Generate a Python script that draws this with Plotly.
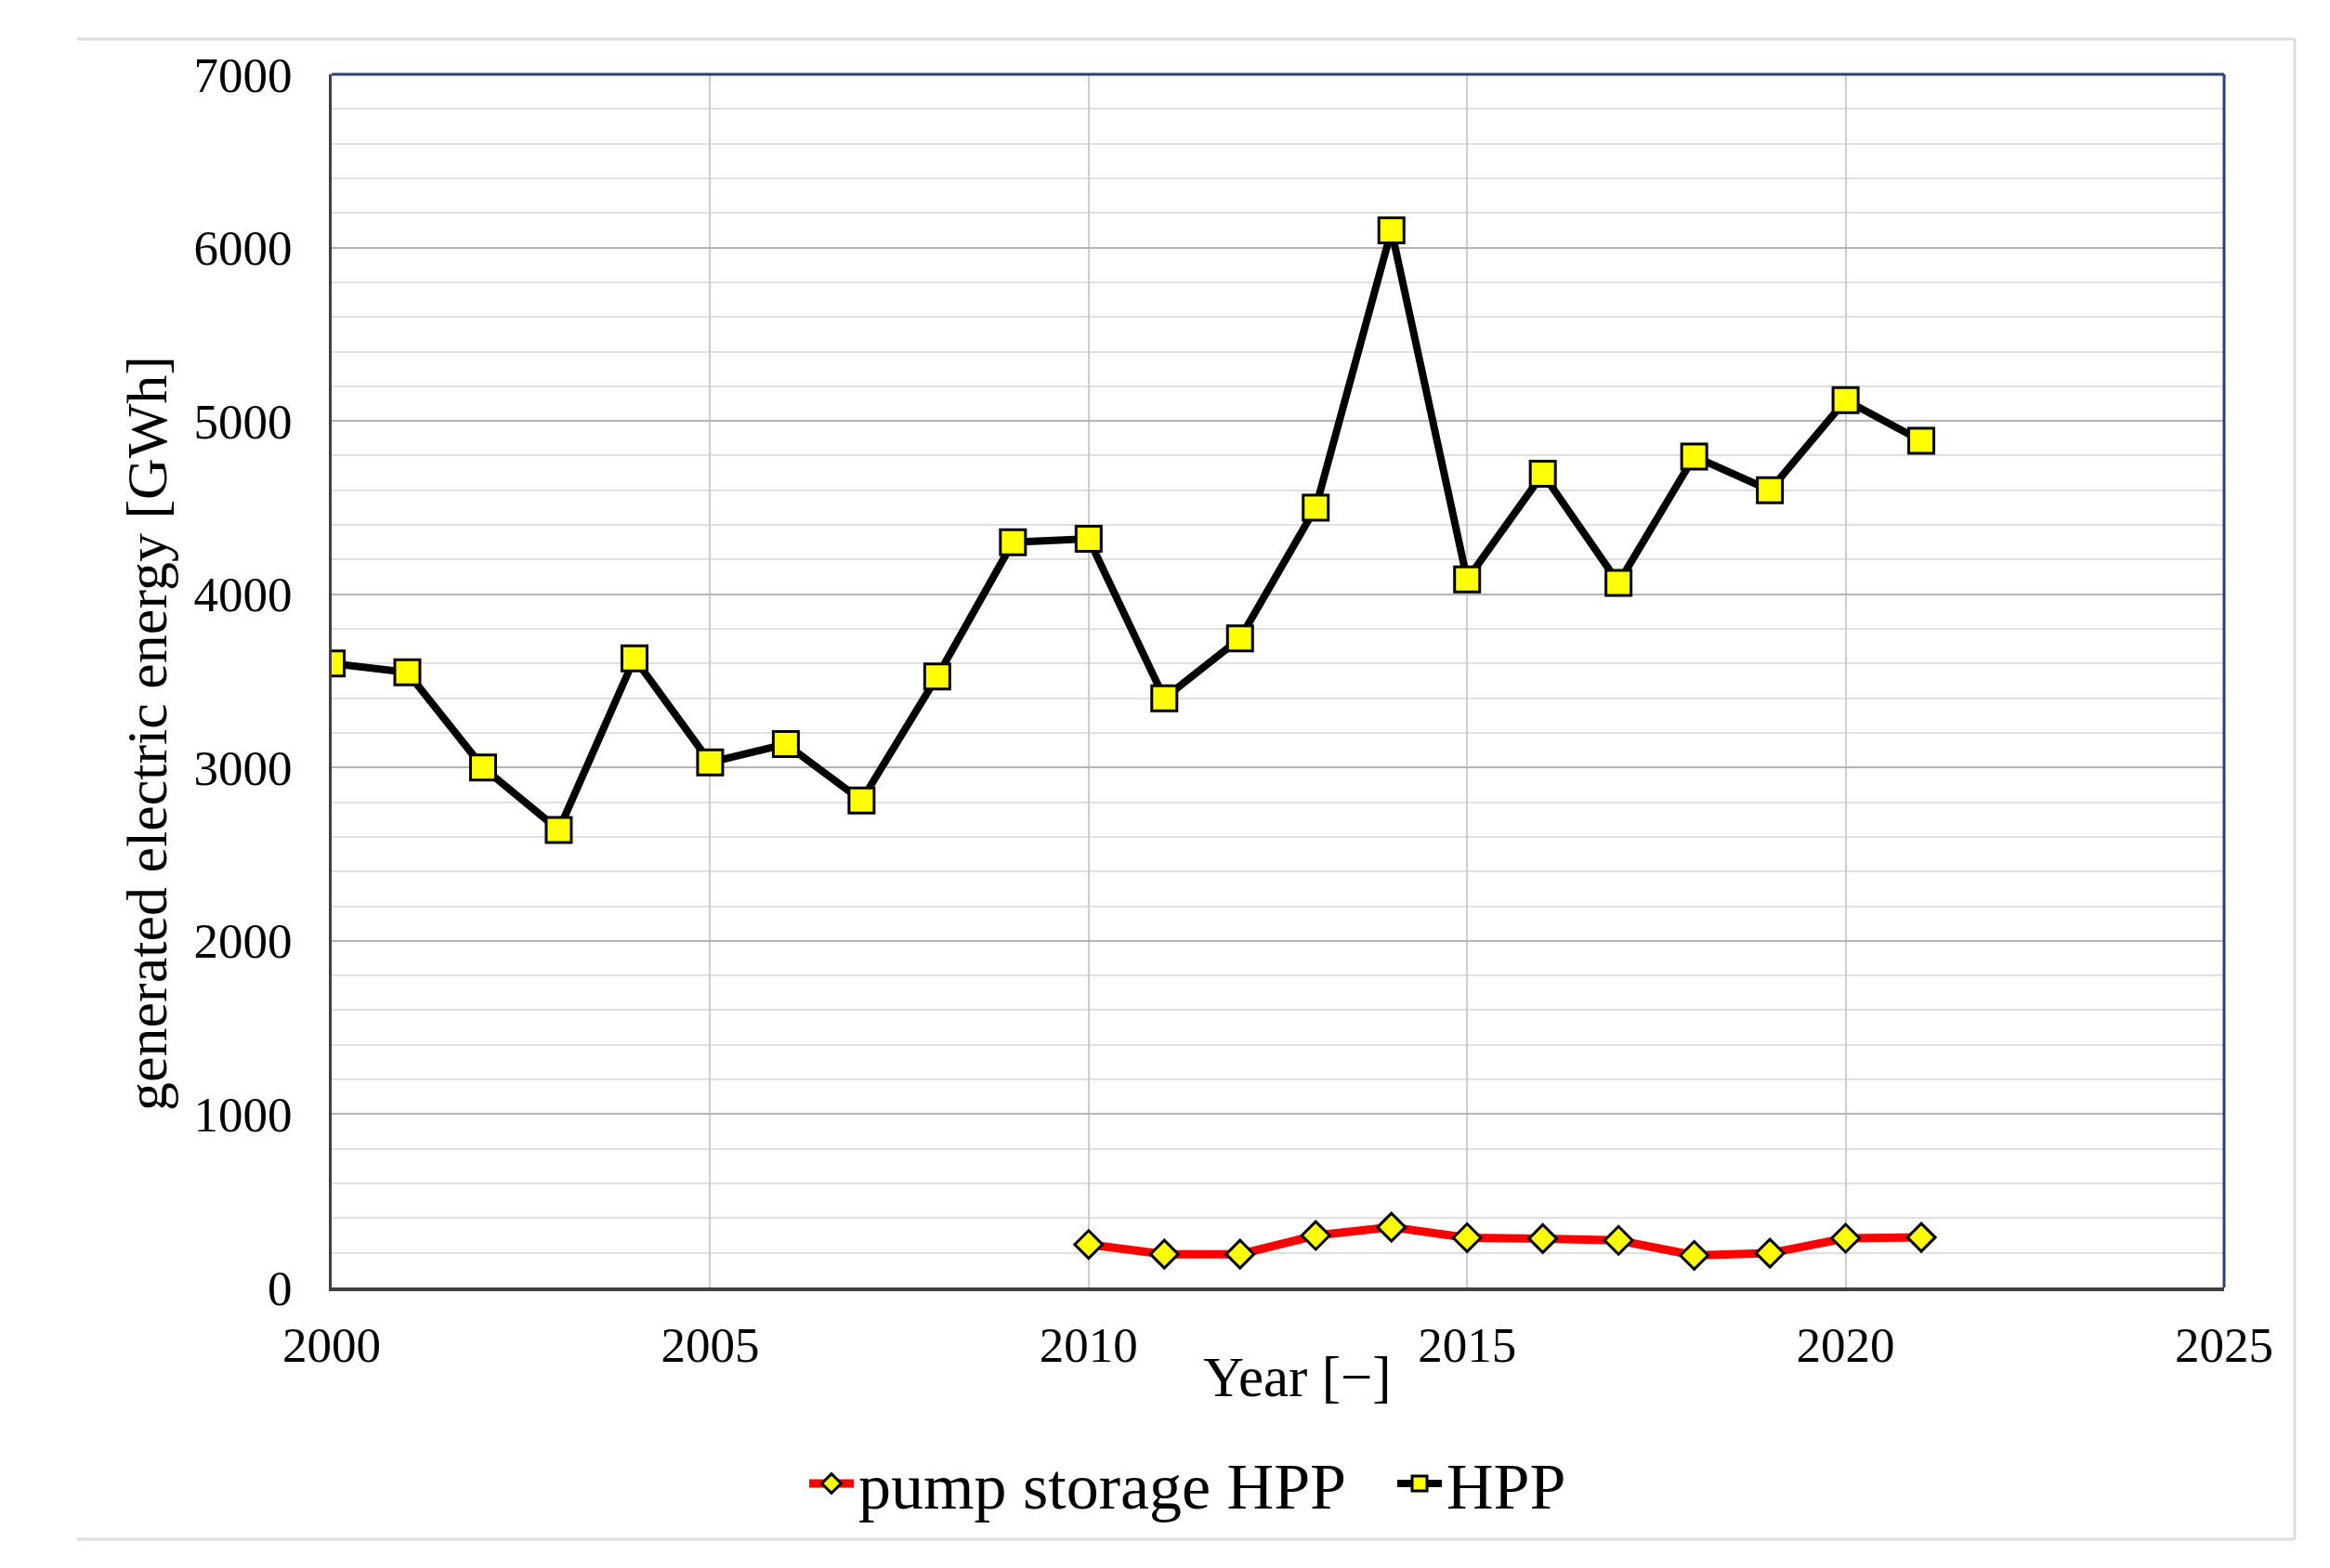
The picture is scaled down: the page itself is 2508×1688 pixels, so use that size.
import plotly.graph_objects as go

years_hpp = list(range(2000, 2022))
hpp = [3600, 3550, 3000, 2640, 3630, 3030, 3135, 2810, 3525, 4300,
       4320, 3400, 3745, 4500, 6100, 4085, 4695, 4065, 4795, 4600, 5120, 4885]

years_ps = list(range(2010, 2022))
pump_storage = [248, 192, 192, 300, 348, 287, 282, 272, 185, 198, 284, 289]

x_ticks = [2000, 2005, 2010, 2015, 2020, 2025]
y_ticks = [0, 1000, 2000, 3000, 4000, 5000, 6000, 7000]

FONT = "Liberation Serif, Times New Roman, serif"

fig = go.Figure()
fig.add_trace(go.Scatter(
    x=years_ps, y=pump_storage, name="pump storage HPP",
    mode="lines+markers",
    line=dict(color="#FF0000", width=9),
    marker=dict(symbol="diamond", size=23, color="#FFFF00",
                line=dict(color="#000000", width=3)),
))
fig.add_trace(go.Scatter(
    x=years_hpp, y=hpp, name="HPP",
    mode="lines+markers",
    line=dict(color="#000000", width=8),
    marker=dict(symbol="square", size=27, color="#FFFF00",
                line=dict(color="#000000", width=3)),
))

OFF = 8  # page body margin
W, H = 2500, 1680
L, R, T, B = 357 - OFF, 2394 - OFF, 80 - OFF, 1386 - OFF
pw, ph = R - L, B - T

def px(xs):
    return (xs - OFF - L) / pw

def py(ys):
    return (B - (ys - OFF)) / ph

fig.update_layout(
    width=W, height=H,
    margin=dict(l=L, r=W - R, t=T, b=H - B),
    paper_bgcolor="white", plot_bgcolor="white",
    font=dict(family=FONT, color="black", size=53),
    showlegend=True,
    legend=dict(orientation="h", x=px(866), y=py(1597),
                xanchor="left", yanchor="middle",
                font=dict(size=70, family=FONT), itemwidth=48,
                entrywidth=570,
                bgcolor="rgba(0,0,0,0)"),
    xaxis=dict(range=[2000, 2025], tickvals=x_ticks,
               ticktext=[str(v) for v in x_ticks],
               showgrid=True, gridcolor="#CDCDCD", gridwidth=2,
               showline=True, linecolor="#404040", linewidth=4,
               zeroline=False, ticks="", ticklabelstandoff=12,
               tickfont=dict(size=53, family=FONT)),
    yaxis=dict(range=[0, 7000], tickvals=y_ticks,
               ticktext=[str(v) for v in y_ticks],
               showgrid=True, gridcolor="#B4B4B4", gridwidth=2,
               minor=dict(dtick=200, showgrid=True, gridcolor="#E0E0E0", gridwidth=2),
               showline=True, linecolor="#404040", linewidth=3,
               zeroline=False, ticks="", ticklabelstandoff=29,
               tickfont=dict(size=53, family=FONT)),
)

# Navy top/right border of the plot area
fig.add_shape(type="line", xref="paper", yref="paper", x0=0, x1=1, y0=1, y1=1,
              line=dict(color="#2B3F7A", width=3), layer="above")
fig.add_shape(type="line", xref="paper", yref="paper", x0=1, x1=1, y0=0, y1=1,
              line=dict(color="#2B3F7A", width=3), layer="above")

# Outer light grey chart-area frame
fx0, fx1, fy0, fy1 = px(83), px(2470), py(1657), py(42)
for (a, b, c, d) in [(fx0, fx1, fy1, fy1), (fx1, fx1, fy0, fy1), (fx0, fx1, fy0, fy0)]:
    fig.add_shape(type="line", xref="paper", yref="paper", x0=a, x1=b, y0=c, y1=d,
                  line=dict(color="#DCDCDC", width=3), layer="below")

fig.add_annotation(text="Year [\u2212]", xref="paper", yref="paper",
                   x=px(1396), y=py(1482), xanchor="center", yanchor="middle",
                   showarrow=False, font=dict(size=61, family=FONT))
fig.add_annotation(text="generated electric energy [GWh]", xref="paper", yref="paper",
                   x=px(158), y=py(790), xanchor="center", yanchor="middle",
                   textangle=-90, showarrow=False, font=dict(size=62, family=FONT))

fig.write_html("out.html")
